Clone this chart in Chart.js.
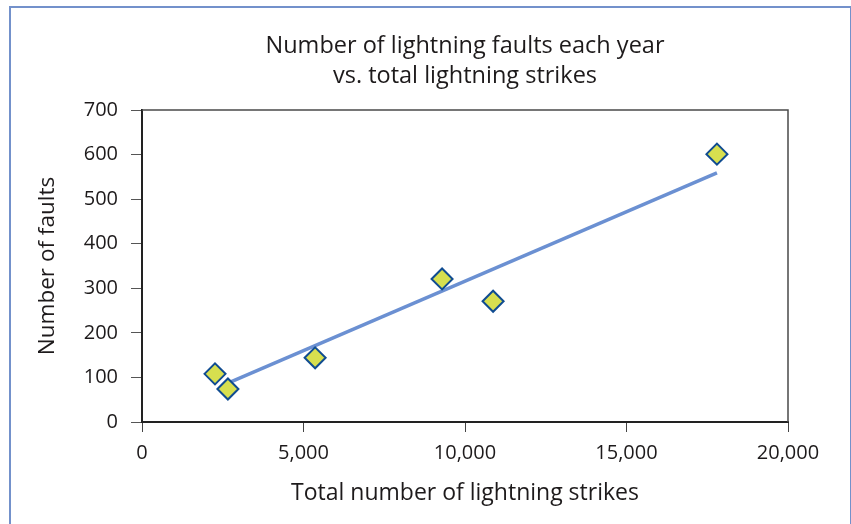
<!DOCTYPE html>
<html>
<head>
<meta charset="utf-8">
<script src="https://cdn.jsdelivr.net/npm/chart.js@4.4.0/dist/chart.umd.min.js"></script>
<style>
  html, body { margin: 0; padding: 0; background: #fff; }
  #wrap { position: relative; width: 851px; height: 524px; overflow: hidden; }
  #frame {
    position: absolute; left: 9px; top: 6px; width: 839px; height: 540px;
    border: 2px solid #7391cb; box-sizing: content-box;
  }
  canvas { position: absolute; left: 0; top: 0; }
</style>
</head>
<body>
<div id="wrap">
  <div id="frame"></div>
  <canvas id="chart" width="851" height="524"></canvas>
</div>
<script>
// Annual lightning strikes vs. faults recorded that year
const strikes = [2260, 2660, 5360, 9290, 10870, 17800];
const faults  = [108, 74, 144, 321, 271, 601];

// Linear trend line end points
const trendX = [2660, 17800];
const trendY = [87, 559];

const xTicks = [0, 5000, 10000, 15000, 20000];
const yTicks = [0, 100, 200, 300, 400, 500, 600, 700];

const titleLines = ['Number of lightning faults each year', 'vs. total lightning strikes'];
const xTitle = 'Total number of lightning strikes';
const yTitle = 'Number of faults';

const FONT = "'Open Sans', 'Noto Sans', sans-serif";
const INK = '#1d1a1b';

// Top and right edges of the plot box
const plotBox = {
  id: 'plotBox',
  beforeDatasetsDraw(chart) {
    const { ctx, chartArea: a } = chart;
    ctx.save();
    ctx.strokeStyle = '#4a4a4a';
    ctx.lineWidth = 1.5;
    ctx.beginPath();
    ctx.moveTo(a.left, a.top);
    ctx.lineTo(a.right, a.top);
    ctx.lineTo(a.right, a.bottom);
    ctx.stroke();
    ctx.restore();
  }
};

new Chart(document.getElementById('chart'), {
  type: 'scatter',
  data: {
    datasets: [
      {
        label: 'Faults',
        data: strikes.map((x, i) => ({ x, y: faults[i] })),
        pointStyle: 'rectRot',
        pointRadius: 10.5,
        pointHoverRadius: 10.5,
        backgroundColor: '#d7df4f',
        borderColor: '#104c91',
        borderWidth: 2,
        order: 1
      },
      {
        label: 'Trend',
        type: 'line',
        data: trendX.map((x, i) => ({ x, y: trendY[i] })),
        borderColor: '#6b90d2',
        borderWidth: 3.5,
        pointRadius: 0,
        fill: false,
        order: 2
      }
    ]
  },
  options: {
    responsive: false,
    animation: false,
    events: [],
    layout: { padding: { left: 0, right: 63, top: 0, bottom: 0 } },
    plugins: {
      legend: { display: false },
      tooltip: { enabled: false },
      title: {
        display: true,
        fullSize: false,
        text: titleLines,
        color: INK,
        font: { family: FONT, size: 23.5, weight: 'normal', lineHeight: 30 / 23.5 },
        padding: { top: 31, bottom: 19 }
      }
    },
    scales: {
      x: {
        type: 'linear',
        min: 0, max: 20000,
        afterBuildTicks: s => { s.ticks = xTicks.map(v => ({ value: v })); },
        afterFit: s => { s.height = 102; },
        border: { display: true, color: '#222', width: 2 },
        grid: { drawOnChartArea: false, drawTicks: true, tickLength: 10, color: '#444' },
        ticks: {
          color: INK,
          padding: 9,
          font: { family: FONT, size: 20 },
          callback: v => v.toLocaleString('en-US')
        },
        title: {
          display: true, text: xTitle, color: INK,
          font: { family: FONT, size: 23 },
          padding: { top: 0, bottom: 17 }
        }
      },
      y: {
        type: 'linear',
        min: 0, max: 700,
        afterBuildTicks: s => { s.ticks = yTicks.map(v => ({ value: v })); },
        afterFit: s => { s.width = 142; },
        border: { display: true, color: '#222', width: 2 },
        grid: { drawOnChartArea: false, drawTicks: true, tickLength: 11, color: '#555' },
        ticks: {
          color: INK,
          padding: 13,
          font: { family: FONT, size: 20 },
          callback: v => String(v)
        },
        title: {
          display: true, text: yTitle, color: INK,
          font: { family: FONT, size: 22.5 },
          padding: { top: 34, bottom: 0 }
        }
      }
    }
  },
  plugins: [plotBox]
});
</script>
</body>
</html>
